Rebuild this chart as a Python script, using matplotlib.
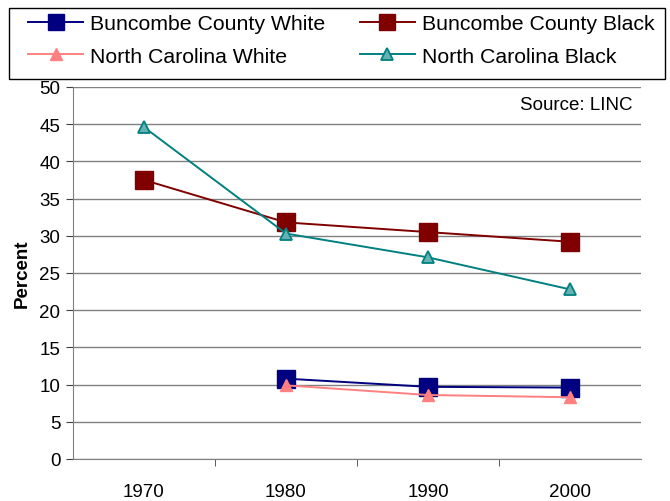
import matplotlib
matplotlib.use("Agg")
import matplotlib.pyplot as plt
from matplotlib.patches import Rectangle

plt.rcParams['font.family'] = ['Liberation Sans', 'DejaVu Sans']

years = ['1970', '1980', '1990', '2000']
bc_white = [None, 10.8, 9.7, 9.6]
bc_black = [37.5, 31.8, 30.5, 29.2]
nc_white = [None, 9.9, 8.6, 8.3]
nc_black = [44.6, 30.3, 27.1, 22.8]

W, H = 670, 502
fig = plt.figure(figsize=(W/100, H/100), dpi=100)
ax = fig.add_axes([73/W, 1-460/H, 568/W, 372/H])

x = list(range(len(years)))

def pts(vals):
    xs = [i for i, v in enumerate(vals) if v is not None]
    ys = [v for v in vals if v is not None]
    return xs, ys

l1, = ax.plot(*pts(bc_white), color='#000080', marker='s', markersize=13, lw=1.4,
              label='Buncombe County White')
l2, = ax.plot(*pts(bc_black), color='#800000', marker='s', markersize=13, lw=1.4,
              label='Buncombe County Black')
l3, = ax.plot(*pts(nc_white), color='#FF8080', marker='^', markersize=9, lw=1.4,
              label='North Carolina White')
l4, = ax.plot(*pts(nc_black), color='#008080', marker='^', markersize=9, lw=1.4,
              markerfacecolor='#66B2B2', markeredgecolor='#008080', markeredgewidth=1.3,
              label='North Carolina Black')

ax.set_xlim(-0.5, 3.5)
ax.set_ylim(0, 50)
ax.set_yticks(range(0, 51, 5))
ax.set_xticks(x)
ax.set_xticklabels(years)
ax.set_xticks([0.5, 1.5, 2.5], minor=True)
ax.tick_params(axis='x', which='major', length=0, pad=17, labelsize=13.5)
ax.tick_params(axis='x', which='minor', length=5, color='#404040')
ax.tick_params(axis='y', length=5, labelsize=13.5, color='#404040', pad=4)
ax.yaxis.grid(True, color='#808080', lw=1)
ax.set_axisbelow(True)
for s in ['top', 'right']:
    ax.spines[s].set_visible(False)
for s in ['left', 'bottom']:
    ax.spines[s].set_color('#808080')
ax.set_ylabel('Percent', fontsize=13.5, fontweight='bold', labelpad=6)

ax.text(0.985, 0.975, 'Source: LINC', transform=ax.transAxes, ha='right', va='top', fontsize=13.5)

# legend frame
fig.patches.append(Rectangle((9/W, 1-80/H), 656/W, 71/H, transform=fig.transFigure,
                             fill=False, edgecolor='black', lw=1.0))

leg = fig.legend(handles=[l1, l3, l2, l4], loc='upper left', ncol=2,
                 bbox_to_anchor=(28/W, 1-15/H),
                 fontsize=15.3, frameon=False,
                 handlelength=2.6, handletextpad=0.33, columnspacing=1.6,
                 borderpad=0, labelspacing=0.65, markerscale=0.9, borderaxespad=0)

fig.savefig('out.png', dpi=100)
